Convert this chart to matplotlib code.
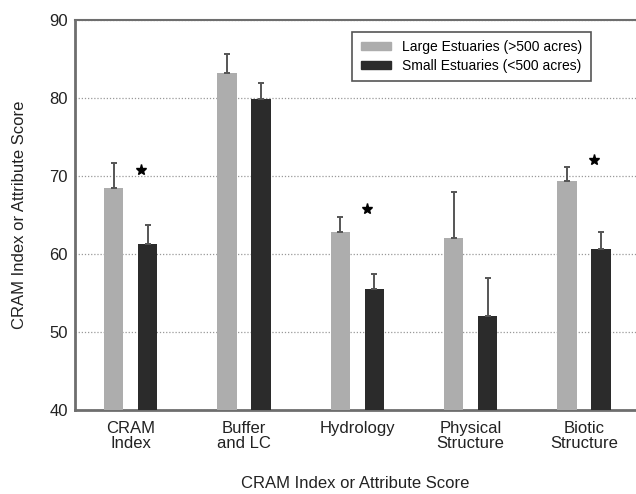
import matplotlib
matplotlib.use("Agg")
from matplotlib import pyplot as plt
from matplotlib.patches import Patch
import numpy as np

plt.rcParams['font.family'] = ['Liberation Sans', 'DejaVu Sans']

categories = ['CRAM\nIndex', 'Buffer\nand LC', 'Hydrology', 'Physical\nStructure', 'Biotic\nStructure']
large_mean = [68.5, 83.2, 62.8, 62.0, 69.3]
large_err = [3.2, 2.4, 1.9, 6.0, 1.9]
small_mean = [61.3, 79.9, 55.5, 52.0, 60.7]
small_err = [2.4, 2.0, 1.9, 4.9, 2.1]
# significance stars (category index, height)
star_idx = [0, 2, 4]
star_y = [70.8, 65.8, 72.0]

large_color = '#adadad'
small_color = '#2b2b2b'

fig = plt.figure(figsize=(6.36, 4.94), dpi=100)
ax = fig.add_axes([0.118, 0.170, 0.882, 0.7895])

x = np.arange(len(categories))
w = 0.17
ax.bar(x - 0.15, large_mean, w, color=large_color, zorder=3)
ax.bar(x + 0.15, small_mean, w, color=small_color, zorder=3)
ax.errorbar(x - 0.15, large_mean, yerr=[[0] * 5, large_err], fmt='none',
            ecolor='#555555', elinewidth=1.4, capsize=2.5, capthick=1.4, zorder=4)
ax.errorbar(x + 0.15, small_mean, yerr=[[0] * 5, small_err], fmt='none',
            ecolor='#555555', elinewidth=1.4, capsize=2.5, capthick=1.4, zorder=4)
ax.plot(x[star_idx] + 0.09, star_y, linestyle='none', marker='*',
        color='black', markersize=8, zorder=5)

ax.set_ylim(40, 90)
ax.set_xlim(-0.49, 4.46)
ax.set_yticks([40, 50, 60, 70, 80, 90])
ax.set_xticks(x)
ax.set_xticklabels(categories, fontsize=12, linespacing=0.95)
ax.tick_params(axis='both', length=0, labelsize=12, colors='#222222')
ax.tick_params(axis='x', pad=8)
ax.tick_params(axis='y', pad=5)

ax.yaxis.grid(True, linestyle=(0, (1, 1.5)), color='#999999', linewidth=0.9, zorder=0)
ax.set_axisbelow(True)

ax.spines['right'].set_visible(False)
ax.spines['left'].set_color('#6e6e6e')
ax.spines['left'].set_linewidth(2)
ax.spines['bottom'].set_color('#6e6e6e')
ax.spines['bottom'].set_linewidth(2)
ax.spines['top'].set_color('#6e6e6e')
ax.spines['top'].set_linewidth(1.5)

ax.set_xlabel('CRAM Index or Attribute Score', fontsize=12, labelpad=18, color='#222222')
ax.set_ylabel('CRAM Index or Attribute Score', fontsize=12, labelpad=16, color='#222222')

handles = [Patch(color=large_color, label='Large Estuaries (>500 acres)'),
           Patch(color=small_color, label='Small Estuaries (<500 acres)')]
leg = ax.legend(handles=handles, loc='upper right', bbox_to_anchor=(0.932, 0.988),
                fontsize=10, fancybox=False, framealpha=1, edgecolor='#555555',
                handlelength=2.2, handleheight=0.6, borderpad=0.6, labelspacing=0.35)
leg.get_frame().set_linewidth(1.2)

fig.savefig('out.png', dpi=100)
